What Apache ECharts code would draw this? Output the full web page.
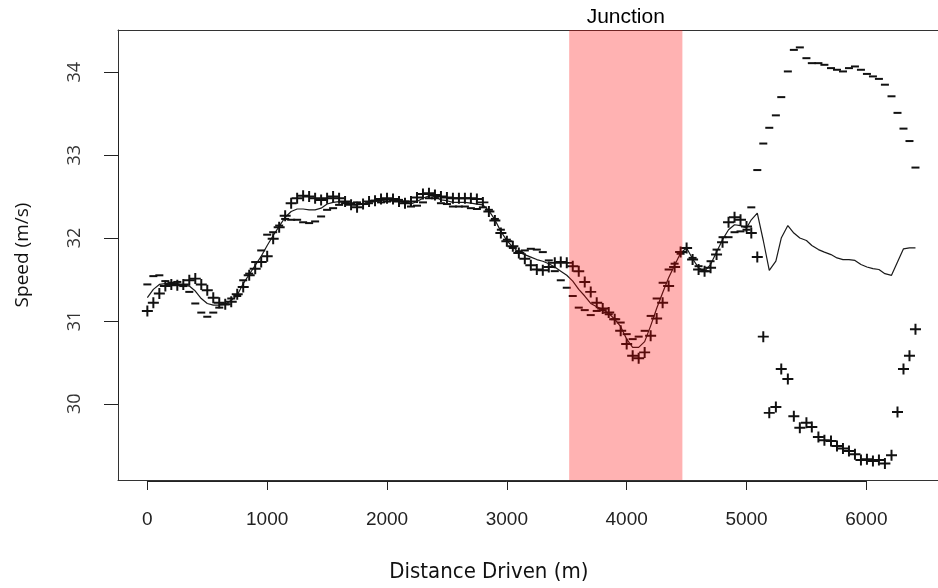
<!DOCTYPE html>
<html>
<head>
<meta charset="utf-8">
<script src="https://cdn.jsdelivr.net/npm/echarts@6/dist/echarts.min.js"></script>
<style>
html,body{margin:0;padding:0;background:#fff;}
#chart{width:938px;height:588px;}
</style>
</head>
<body>
<div id="chart"></div>
<script>
// ---- data ----
const dist = [0,50,100,150,200,250,300,350,400,450,500,550,600,650,700,750,800,850,900,950,
1000,1050,1100,1150,1200,1250,1300,1350,1400,1450,1500,1550,1600,1650,1700,1750,1800,1850,1900,1950,
2000,2050,2100,2150,2200,2250,2300,2350,2400,2450,2500,2550,2600,2650,2700,2750,2800,2850,2900,2950,
3000,3050,3100,3150,3200,3250,3300,3350,3400,3450,3500,3550,3600,3650,3700,3750,3800,3850,3900,3950,
4000,4050,4100,4150,4200,4250,4300,4350,4400,4450,4500,4550,4600,4650,4700,4750,4800,4850,4900,4950,
5000,5040,5090,5140,5190,5245,5290,5345,5395,5445,5500,5545,5600,5650,5705,5755,5805,5855,5905,5955,
6005,6055,6105,6155,6210,6260,6310,6360,6410];

const plusSpeed = [31.12,31.22,31.33,31.42,31.44,31.43,31.44,31.49,31.51,31.44,31.37,31.28,31.22,31.20,31.23,31.32,31.41,31.55,31.63,31.71,
31.78,31.99,32.13,32.27,32.42,32.48,32.51,32.50,32.48,32.46,32.48,32.50,32.48,32.44,32.40,32.37,32.41,32.44,32.45,32.47,
32.48,32.47,32.44,32.42,32.44,32.49,32.53,32.54,32.52,32.50,32.49,32.48,32.48,32.48,32.48,32.47,32.43,32.32,32.21,32.06,
31.96,31.90,31.82,31.75,31.67,31.62,31.61,31.65,31.70,31.71,31.70,31.66,31.60,31.47,31.35,31.22,31.15,31.10,31.02,30.88,
30.72,30.58,30.55,30.62,30.82,31.03,31.22,31.42,31.65,31.83,31.88,31.74,31.62,31.60,31.64,31.80,31.95,32.19,32.25,32.22,
32.14,32.06,31.77,30.81,29.89,29.96,30.42,30.30,29.85,29.71,29.77,29.72,29.60,29.56,29.55,29.49,29.46,29.43,29.39,29.32,
29.33,29.31,29.32,29.28,29.38,29.90,30.42,30.58,30.90];

const minusSpeed = [31.44,31.54,31.55,31.48,31.46,31.47,31.42,31.35,31.21,31.10,31.05,31.10,31.16,31.20,31.27,31.30,31.49,31.57,31.71,31.85,
32.04,32.07,32.15,32.23,32.22,32.22,32.19,32.18,32.20,32.26,32.34,32.36,32.40,32.42,32.42,32.43,32.41,32.42,32.45,32.43,
32.44,32.45,32.46,32.44,32.38,32.39,32.43,32.48,32.48,32.42,32.41,32.38,32.38,32.38,32.36,32.35,32.37,32.34,32.23,32.10,
31.98,31.88,31.84,31.85,31.87,31.86,31.83,31.73,31.60,31.49,31.40,31.30,31.16,31.13,31.07,31.12,31.13,31.08,31.02,30.98,
30.84,30.78,30.81,30.88,31.06,31.27,31.46,31.62,31.69,31.81,31.88,31.76,31.66,31.60,31.72,31.86,32.01,32.01,32.07,32.08,
32.10,32.37,32.82,33.14,33.33,33.48,33.70,34.01,34.27,34.30,34.17,34.11,34.11,34.09,34.05,34.03,34.01,34.05,34.07,34.03,
33.98,33.95,33.92,33.85,33.71,33.51,33.32,33.17,32.85];

const smoothSpeed = [31.28,31.38,31.44,31.45,31.45,31.45,31.43,31.42,31.36,31.27,31.21,31.19,31.19,31.20,31.25,31.31,31.45,31.56,31.67,31.78,
31.91,32.03,32.14,32.25,32.32,32.35,32.35,32.34,32.34,32.36,32.41,32.43,32.44,32.43,32.41,32.40,32.41,32.43,32.45,32.45,
32.46,32.46,32.45,32.43,32.41,32.44,32.48,32.51,32.50,32.46,32.45,32.43,32.43,32.43,32.42,32.41,32.40,32.33,32.22,32.08,
31.97,31.89,31.83,31.80,31.77,31.74,31.72,31.69,31.65,31.60,31.55,31.48,31.38,31.30,31.21,31.17,31.14,31.09,31.02,30.93,
30.78,30.68,30.68,30.75,30.94,31.15,31.34,31.52,31.67,31.82,31.88,31.75,31.64,31.60,31.68,31.83,31.98,32.10,32.16,32.15,
32.12,32.22,32.30,31.97,31.61,31.72,32.00,32.15,32.06,32.00,31.97,31.91,31.86,31.83,31.80,31.76,31.74,31.74,31.73,31.68,
31.65,31.63,31.62,31.57,31.55,31.71,31.87,31.88,31.88];

const xTicks = [0,1000,2000,3000,4000,5000,6000];
const yTicks = [30,31,32,33,34];
const junction = [3520, 4465];

// ---- layout ----
const W = 938, H = 588;
const plotLeft = 118, plotTop = 30, plotH = 450;
const plotW = W - plotLeft;                 // plot box runs past the right edge of the picture
const xMin = -245, xMax = 6598, yMin = 29.08, yMax = 34.51;
const pxX = plotW / (xMax - xMin), pxY = plotH / (yMax - yMin);
const xt0 = xTicks[0], xt1 = xTicks[xTicks.length - 1];
const yt0 = yTicks[0], yt1 = yTicks[yTicks.length - 1];
const axisY = plotTop + plotH + 1;

const pair = (ys) => dist.map((d, i) => [d, ys[i]]);
const boxLine = {show: true, onZero: false, lineStyle: {color: '#333', width: 1}};
const noAxisBits = {axisTick: {show: false}, axisLabel: {show: false}, splitLine: {show: false}};

const chart = echarts.init(document.getElementById('chart'), null, {renderer: 'canvas'});
chart.setOption({
  animation: false,
  backgroundColor: '#fff',
  grid: [
    {left: plotLeft, top: plotTop, right: 0, height: plotH, show: false},
    {left: plotLeft + (xt0 - xMin) * pxX, width: (xt1 - xt0) * pxX, top: axisY - 10, height: 10},
    {left: plotLeft, width: 10, top: plotTop + (yMax - yt1) * pxY, height: (yt1 - yt0) * pxY}
  ],
  xAxis: [
    Object.assign({gridIndex: 0, type: 'value', min: xMin, max: xMax, position: 'bottom', axisLine: boxLine}, noAxisBits),
    {gridIndex: 1, type: 'value', min: xt0, max: xt1, interval: xTicks[1] - xTicks[0], position: 'bottom',
     axisLine: {show: true, onZero: false, lineStyle: {color: '#222', width: 1}},
     axisTick: {show: true, length: 9, lineStyle: {color: '#222', width: 1}},
     axisLabel: {show: true, margin: 29, fontSize: 19, color: '#222', fontFamily: 'Liberation Sans, Arial, sans-serif',
                 formatter: (v) => String(v)},
     splitLine: {show: false},
     name: 'Distance Driven (m)', nameLocation: 'middle', nameGap: 80,
     nameTextStyle: {fontSize: 22, color: '#111', fontFamily: 'Liberation Sans Narrow, DejaVu Sans Condensed, sans-serif', padding: [0, 36, 0, 0]}},
    {gridIndex: 2, type: 'value', show: false},
    Object.assign({gridIndex: 0, type: 'value', min: xMin, max: xMax, position: 'top', axisLine: boxLine}, noAxisBits)
  ],
  yAxis: [
    Object.assign({gridIndex: 0, type: 'value', min: yMin, max: yMax, position: 'left', axisLine: boxLine,
     name: 'Speed (m/s)', nameLocation: 'middle', nameRotate: 90, nameGap: 86,
     nameTextStyle: {fontSize: 19, color: '#111', fontFamily: 'Open Sans, sans-serif'}}, noAxisBits),
    {gridIndex: 1, type: 'value', show: false},
    {gridIndex: 2, type: 'value', min: yt0, max: yt1, interval: yTicks[1] - yTicks[0], position: 'left',
     axisLine: {show: true, onZero: false, lineStyle: {color: '#222', width: 1}},
     axisTick: {show: true, length: 14, lineStyle: {color: '#222', width: 1}},
     axisLabel: {show: true, rotate: 90, margin: 34, fontSize: 18, color: '#333', fontFamily: 'Open Sans, sans-serif'},
     splitLine: {show: false}}
  ],
  series: [
    {name: 'mean', type: 'line', xAxisIndex: 0, yAxisIndex: 0, data: pair(smoothSpeed),
     showSymbol: false, symbol: 'none', lineStyle: {color: '#1a1a1a', width: 1.2}, z: 3,
     markArea: {silent: true, z: 10,
       itemStyle: {color: 'rgba(255,0,0,0.3)'},
       label: {show: true, position: 'top', distance: 2, formatter: 'Junction', fontSize: 21, color: '#000',
               fontFamily: 'Liberation Sans, Arial, sans-serif'},
       data: [[{xAxis: junction[0]}, {xAxis: junction[1]}]]}},
    {name: 'plus', type: 'scatter', xAxisIndex: 0, yAxisIndex: 0, data: pair(plusSpeed),
     symbol: 'path://M4.1,0H5.9V4.1H10V5.9H5.9V10H4.1V5.9H0V4.1H4.1Z', symbolSize: 11,
     itemStyle: {color: '#111', opacity: 1}, z: 4},
    {name: 'minus', type: 'scatter', xAxisIndex: 0, yAxisIndex: 0, data: pair(minusSpeed),
     symbol: 'path://M0,0H10V1H0Z', symbolSize: [8, 2],
     itemStyle: {color: '#111', opacity: 1}, z: 4}
  ]
});
</script>
</body>
</html>
